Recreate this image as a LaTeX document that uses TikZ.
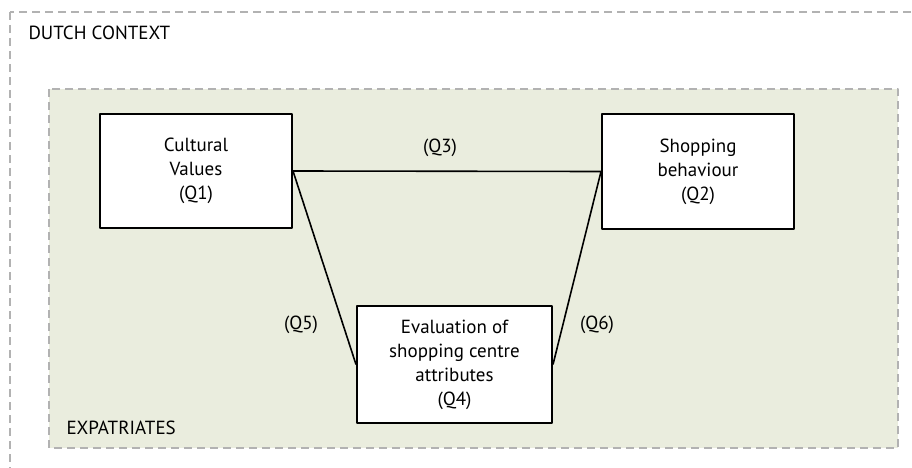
\documentclass[tikz,border=0pt]{standalone}
\usepackage{fontspec}
\setmainfont{PT Sans}
\usetikzlibrary{positioning}
\definecolor{ctxgray}{RGB}{178,178,178}
\definecolor{expfill}{RGB}{234,237,222}
\begin{document}
\begin{tikzpicture}[x=1pt, y=-1pt, line join=round, font=\fontsize{19}{24}\selectfont]
	\tikzset{ctx/.style={draw=ctxgray, dash pattern=on 8pt off 5pt, line width=1.3pt},
		qbox/.style={draw, fill=white, line width=2pt, align=center, inner sep=0pt}}
	\clip (0,0) rectangle (912,468);
	\draw[ctx] (10,12) rectangle (960,520);
	\draw[ctx, fill=expfill] (49,89) rectangle (898,448);
	\node[anchor=base west] (dutch) at (25,40) {DUTCH CONTEXT};
	\node[anchor=base west] (expat) at (63,434) {EXPATRIATES};
	\node[qbox, minimum width=192, minimum height=114] (values) at (196,171) {Cultural\\Values\\(Q1)};
	\node[qbox, minimum width=192, minimum height=115] (shopping) at (698,171.5) {Shopping\\behaviour\\(Q2)};
	\node[qbox, minimum width=195, minimum height=117] (evaluation) at (454.5,364.5) {Evaluation of\\shopping centre\\attributes\\(Q4)};
	\draw[line width=1.6pt] (values.east) -- (shopping.west);
	\draw[line width=1.6pt] (values.east) -- (evaluation.west);
	\draw[line width=1.6pt] (shopping.west) -- (evaluation.east);
	\node (q3) at (440,148) {(Q3)};
	\node (q5) at (301,325) {(Q5)};
	\node (q6) at (597,325) {(Q6)};
\end{tikzpicture}
\end{document}
